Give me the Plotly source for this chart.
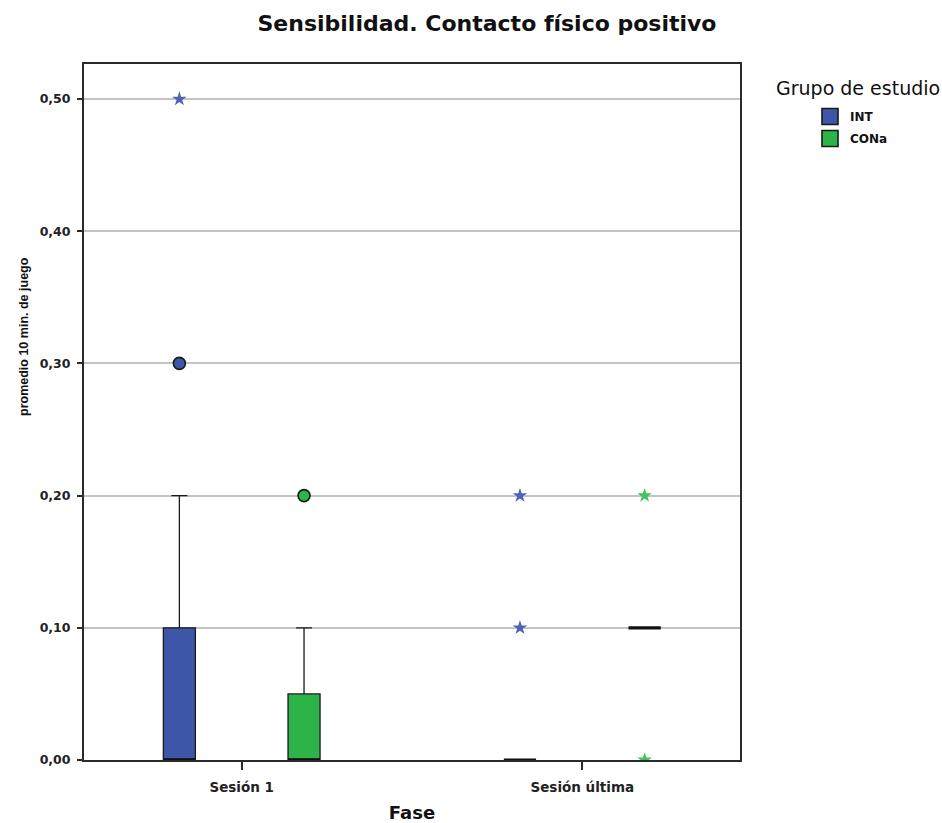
import plotly.graph_objects as go

# Categories and groups
phases = ["Sesión 1", "Sesión última"]
groups = ["INT", "CONa"]

# Box summary statistics per group, one value per phase
int_q1 = [0.00, 0.00]
int_median = [0.00, 0.00]
int_q3 = [0.10, 0.00]
int_lower = [0.00, 0.00]
int_upper = [0.20, 0.00]

cona_q1 = [0.00, 0.10]
cona_median = [0.00, 0.10]
cona_q3 = [0.05, 0.10]
cona_lower = [0.00, 0.10]
cona_upper = [0.10, 0.10]

# Outliers (circles) and extreme values (stars): phase index, value
int_outlier_phase = [0]
int_outlier_value = [0.30]
int_extreme_phase = [0, 1, 1]
int_extreme_value = [0.50, 0.10, 0.20]

cona_outlier_phase = [0]
cona_outlier_value = [0.20]
cona_extreme_phase = [1, 1]
cona_extreme_value = [0.20, 0.00]

y_ticks = [0.0, 0.1, 0.2, 0.3, 0.4, 0.5]

# Styling
fill_colors = {"INT": "#3e56a7", "CONa": "#2cb448"}
star_colors = {"INT": "#4d63b8", "CONa": "#42c45c"}
group_offset = {"INT": -0.183, "CONa": 0.183}
box_width = 0.094

wide_font = "DejaVu Sans, Verdana, sans-serif"
arial = "Liberation Sans, Arial, sans-serif"

series = {
    "INT": dict(q1=int_q1, median=int_median, q3=int_q3, lower=int_lower, upper=int_upper,
                out_p=int_outlier_phase, out_v=int_outlier_value,
                ext_p=int_extreme_phase, ext_v=int_extreme_value),
    "CONa": dict(q1=cona_q1, median=cona_median, q3=cona_q3, lower=cona_lower, upper=cona_upper,
                 out_p=cona_outlier_phase, out_v=cona_outlier_value,
                 ext_p=cona_extreme_phase, ext_v=cona_extreme_value),
}

fig = go.Figure()

for g in groups:
    s = series[g]
    off = group_offset[g]
    xs = [i + off for i in range(len(phases))]
    fig.add_trace(go.Box(
        x=xs, q1=s["q1"], median=s["median"], q3=s["q3"],
        lowerfence=s["lower"], upperfence=s["upper"],
        width=box_width, whiskerwidth=0.5,
        fillcolor=fill_colors[g],
        line=dict(color="#1a1a1a", width=1.3),
        boxpoints=False, showlegend=False, hoverinfo="skip",
    ))
    # Thick median bar
    fig.add_trace(go.Scatter(
        x=xs, y=s["median"], mode="markers",
        marker=dict(symbol="line-ew", size=23, line=dict(color="#111111", width=3.2)),
        showlegend=False, hoverinfo="skip",
    ))
    # Outliers
    fig.add_trace(go.Scatter(
        x=[p + off for p in s["out_p"]], y=s["out_v"], mode="markers",
        marker=dict(symbol="circle", size=12, color=fill_colors[g],
                    line=dict(color="#1a1a1a", width=1.6)),
        showlegend=False, hoverinfo="skip",
    ))
    # Extreme values
    fig.add_trace(go.Scatter(
        x=[p + off for p in s["ext_p"]], y=s["ext_v"], mode="markers",
        marker=dict(symbol="star", size=11, color=star_colors[g], line=dict(width=0)),
        showlegend=False, hoverinfo="skip",
    ))
    # Legend entry
    fig.add_trace(go.Scatter(
        x=[None], y=[None], mode="markers", name=g, legendgroup=g,
        marker=dict(symbol="square", size=16, color=fill_colors[g],
                    line=dict(color="#1a1a1a", width=1.6)),
    ))

fig.update_layout(
    width=942, height=823,
    margin=dict(l=84, r=202, t=64, b=63),
    paper_bgcolor="white", plot_bgcolor="white",
    separators=",.",
    title=dict(text="<b>Sensibilidad. Contacto físico positivo</b>",
               x=487 / 942, xref="container", xanchor="center",
               y=1 - 23 / 823, yref="container", yanchor="middle",
               font=dict(family=wide_font, size=22, color="#111111")),
    legend=dict(x=(810 - 84) / 656, xanchor="left", y=(760 - 102) / 696, yanchor="top",
                font=dict(family=wide_font, size=12, color="#111111", weight="bold"),
                itemwidth=30, tracegroupgap=3, bgcolor="rgba(0,0,0,0)"),
    showlegend=True,
    annotations=[
        dict(text="Grupo de estudio", x=858, y=88, showarrow=False,
             font=dict(family=wide_font, size=19, color="#111111")),
        dict(text="<b>promedio 10 min. de juego</b>", textangle=-90,
             x=24, y=337, showarrow=False,
             font=dict(family=arial, size=12.5, color="#111111")),
    ],
)

# Annotations positioned in pixels: convert to paper coordinates
pa_l, pa_t, pa_w, pa_h = 84, 64, 656, 696
for a in fig.layout.annotations:
    a.x = (a.x - pa_l) / pa_w
    a.y = 1 - (a.y - pa_t) / pa_h
    a.xref = "paper"
    a.yref = "paper"
    a.xanchor = "center"
    a.yanchor = "middle"

fig.update_xaxes(
    range=[-0.463, 1.463], tickvals=list(range(len(phases))), ticktext=phases,
    showline=True, linecolor="#2b2b2b", linewidth=2, mirror=True,
    ticks="outside", ticklen=8, tickwidth=2, tickcolor="#2b2b2b",
    ticklabelstandoff=6, automargin=False,
    showgrid=False, zeroline=False,
    tickfont=dict(family=wide_font, size=13.5, color="#222222", weight="bold"),
    title=dict(text="<b>Fase</b>", standoff=14,
               font=dict(family=wide_font, size=18, color="#111111")),
)
fig.update_yaxes(
    range=[0, 0.5265], tickvals=y_ticks, tickformat=".2f",
    showline=True, linecolor="#2b2b2b", linewidth=2, mirror=True,
    ticks="outside", ticklen=5, tickwidth=1.5, tickcolor="#2b2b2b",
    ticklabelstandoff=4, automargin=False,
    showgrid=True, gridcolor="#c4c4c4", gridwidth=1.5, zeroline=False,
    tickfont=dict(family=wide_font, size=12.5, color="#222222", weight="bold"),
    title=dict(text=""),
)

fig.write_html("out.html")
